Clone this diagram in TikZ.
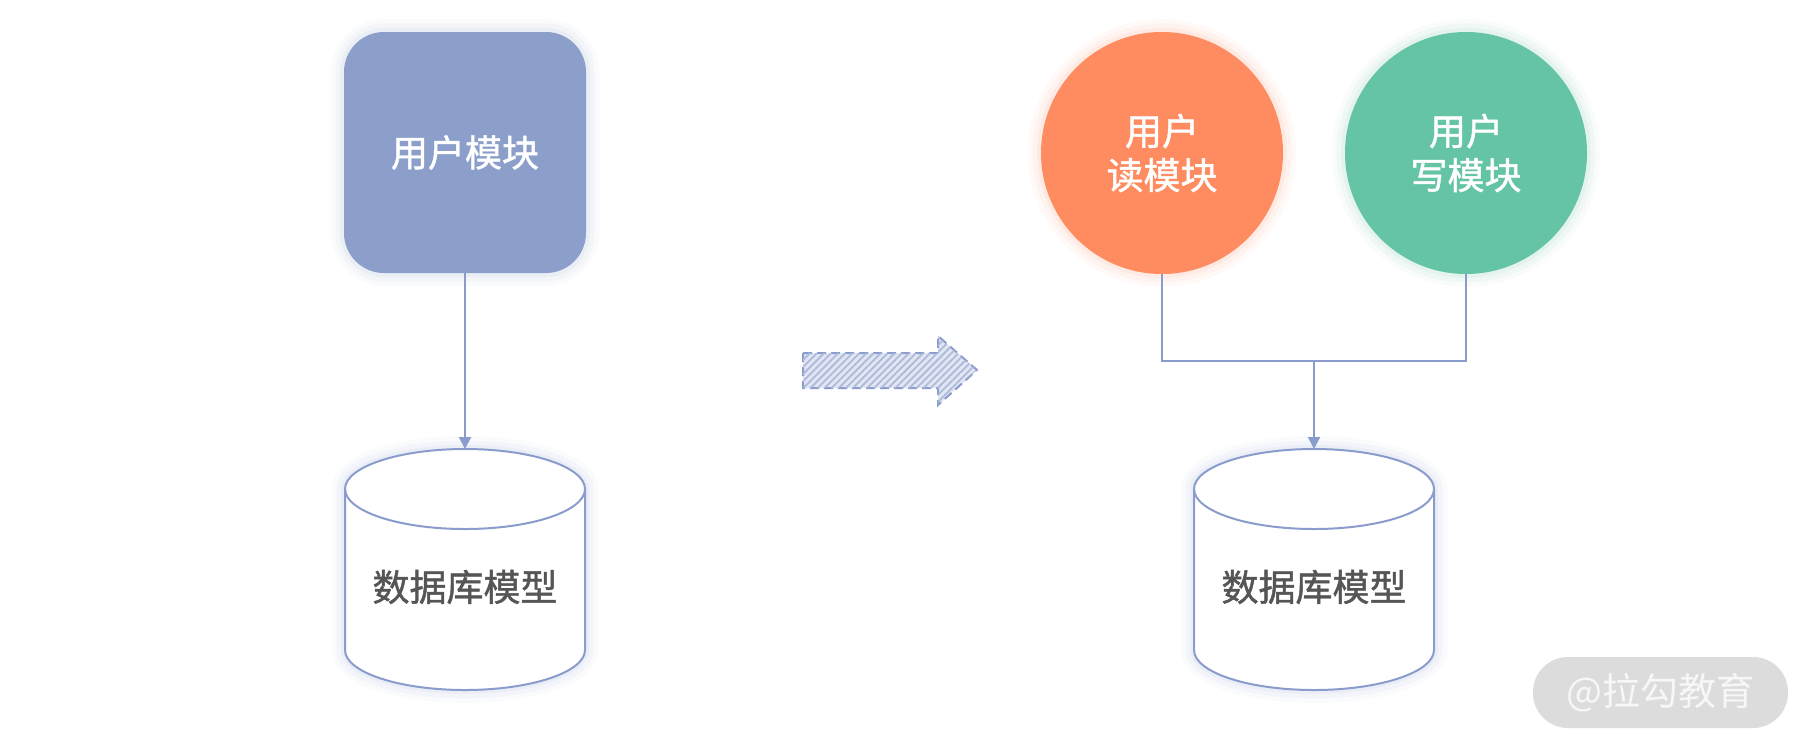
\documentclass[tikz,border=0pt]{standalone}
\usepackage{fontspec}
\newfontfamily\cjk{Noto Sans CJK SC}
\newfontfamily\cjkm[FakeBold=1.2]{Noto Sans CJK SC}
\usetikzlibrary{arrows.meta,patterns.meta}
\definecolor{sqblue}{HTML}{8C9FCB}
\definecolor{lnblue}{HTML}{8A9CCC}
\definecolor{orng}{HTML}{FF8C61}
\definecolor{grn}{HTML}{66C4A6}
\definecolor{txtgray}{HTML}{555555}
\definecolor{wmgray}{HTML}{DCDCDC}
\tikzset{
  glow/.style={preaction={draw=#1,line width=26pt,draw opacity=0.04},
               preaction={draw=#1,line width=17pt,draw opacity=0.06},
               preaction={draw=#1,line width=8pt,draw opacity=0.08}},
  conn/.style={draw=lnblue,line width=2pt},
  tip/.style={-{Triangle[width=12pt,length=12pt]}},
  labelw/.style={font=\cjkm\fontsize{37}{44}\selectfont,text=white,align=center},
  labelg/.style={font=\cjkm\fontsize{37}{44}\selectfont,text=txtgray,align=center},
}
\begin{document}
\begin{tikzpicture}[x=1pt,y=-1pt]
\useasboundingbox[fill=white] (0,0) rectangle (1814,753);
% left square
\node[glow=sqblue,fill=sqblue,rounded corners=40pt,minimum width=242pt,minimum height=241pt,labelw] (um) at (465,152.5) {用户模块};
% circles
\node[glow=orng,circle,fill=orng,minimum size=242pt,labelw] (ur) at (1162,153) {用户\\读模块};
\node[glow=grn,circle,fill=grn,minimum size=242pt,labelw] (uw) at (1466,153) {用户\\写模块};
% cylinders
\foreach \cx/\nm in {465/dbl,1314/dbr}{
  \fill[white,glow=lnblue] (\cx-120,489) -- (\cx-120,650) arc[start angle=180,end angle=360,x radius=120,y radius=-40] -- (\cx+120,489) arc[start angle=0,end angle=180,x radius=120,y radius=-40] -- cycle;
  \draw[lnblue,line width=2pt] (\cx-120,489) -- (\cx-120,650) arc[start angle=180,end angle=360,x radius=120,y radius=-40] -- (\cx+120,489);
  \draw[lnblue,line width=2pt] (\cx,489) ellipse[x radius=120,y radius=40];
  \coordinate (\nm top) at (\cx,449);
  \node[labelg] (\nm) at (\cx,587) {数据库模型};
}
% connectors
\draw[conn,tip] (um.south) -- (dbltop);
\coordinate (jn) at (1314,361);
\draw[conn] (ur.south) |- (jn) -| (uw.south);
\draw[conn,tip] (jn) -- (dbrtop);
% block arrow
\path[draw=lnblue,line width=2pt,dash pattern=on 9pt off 5pt,fill=lnblue!25,
  postaction={pattern={Lines[angle=45,distance=5pt,line width=1.8pt]},pattern color=lnblue!70}]
  (803,353) -- (938,353) -- (938,336) -- (977,370) -- (938,405) -- (938,388) -- (803,388) -- cycle;
% watermark
\node[fill=wmgray,rounded corners=35pt,minimum width=255pt,minimum height=71pt,font=\cjk\fontsize{38}{40}\selectfont,text=white!97!black] (wm) at (1660.5,692.5) {@拉勾教育};
\end{tikzpicture}
\end{document}
